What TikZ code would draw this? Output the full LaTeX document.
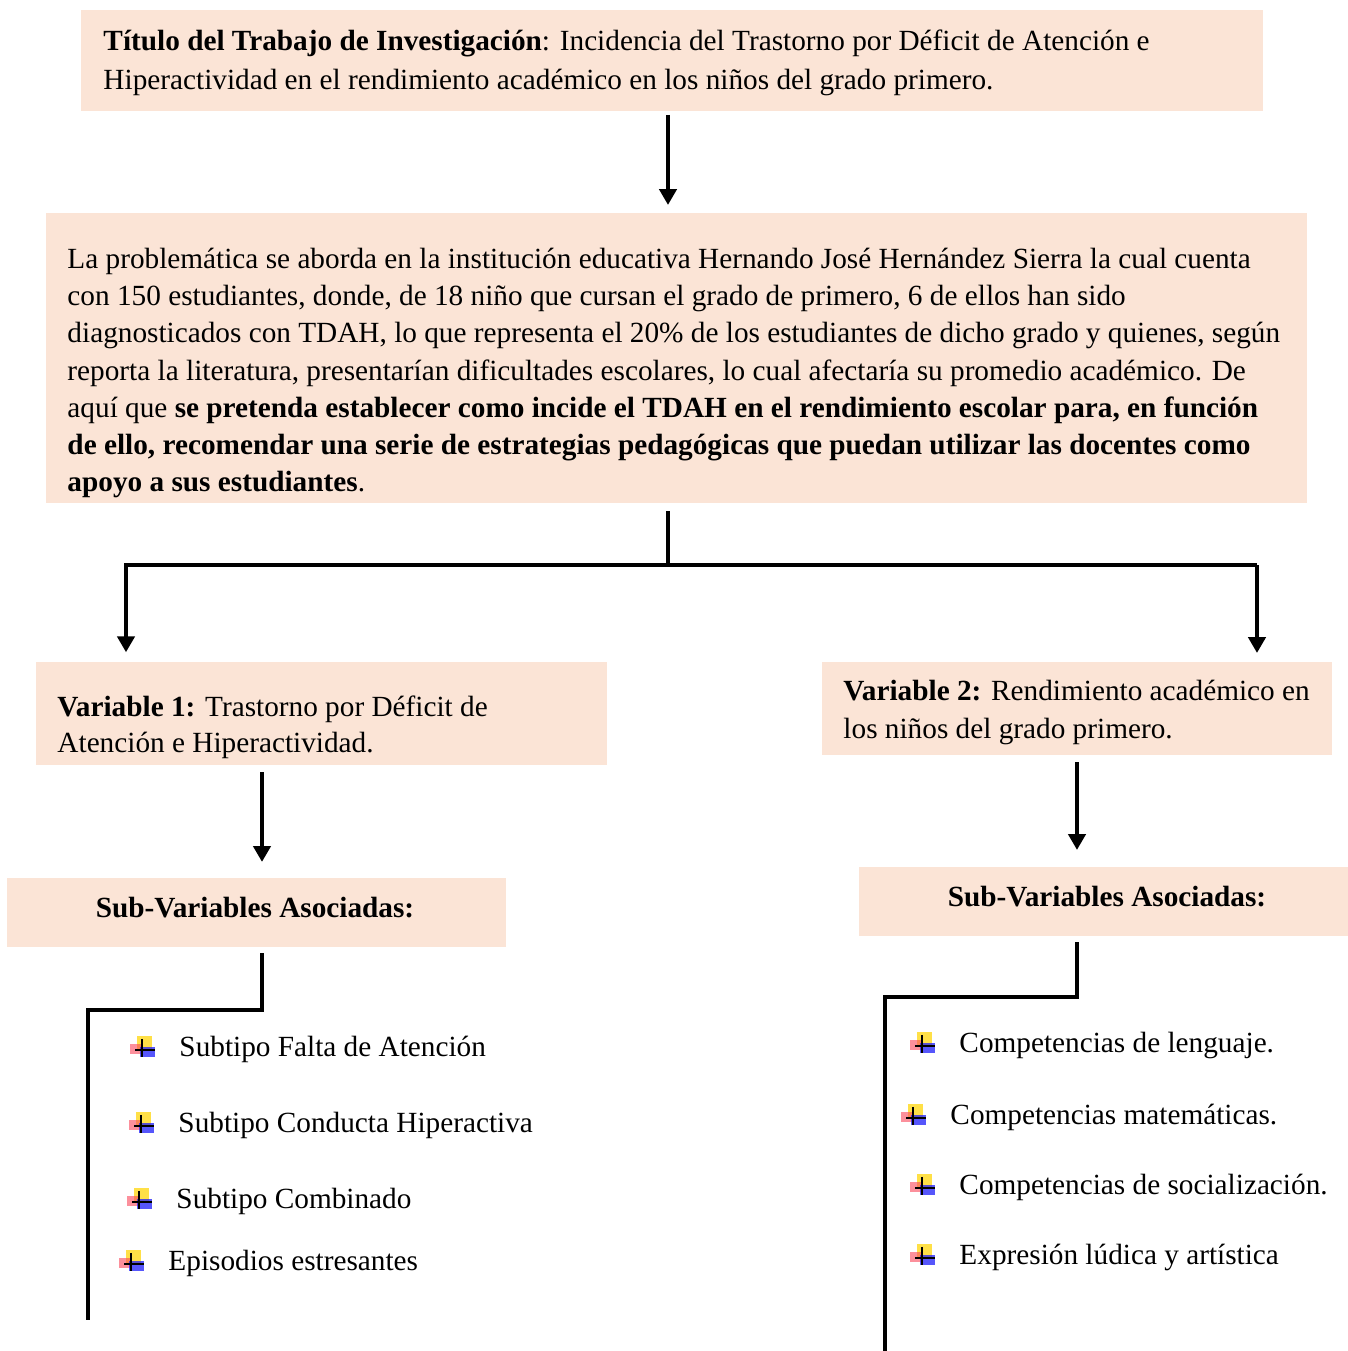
\documentclass[tikz,border=0pt]{standalone}
\usepackage{fontspec}
\setmainfont{Liberation Serif}
\usetikzlibrary{arrows.meta,fit,positioning}
\definecolor{peach}{RGB}{251,228,214}
\definecolor{bulyel}{RGB}{255,214,10}
\definecolor{bulred}{RGB}{250,70,90}
\definecolor{bulblu}{RGB}{30,30,250}
\newcommand{\pxu}{0.41pt}
\tikzset{
	plusmark/.pic={
		\fill[bulyel,opacity=.75] (-5,-14) rectangle (10,-1);
		\fill[bulred,opacity=.6] (-12,-6) rectangle (0,4);
		\fill[bulblu,opacity=.75] (-2,-3) rectangle (13,7);
		\draw[black,line width=0.5pt] (0,-11) -- (0,7) (-7,0) -- (13,0);
	}
}
\begin{document}
\begin{tikzpicture}[x=\pxu,y=-\pxu,
		pbox/.style={fill=peach,inner sep=0pt,outer sep=0pt},
		txt/.style={inner sep=0pt,align=left,anchor=north west,font=\fontsize{12}{15.2}\selectfont},
		item/.style={inner sep=0pt,anchor=west,text height=8.5pt,text depth=2.6pt,font=\fontsize{12}{14}\selectfont},
		link/.style={line width=1.6pt},
		arr/.style={link,-{Triangle[length=6.5pt,width=7pt]}}]
	\useasboundingbox (0,0) rectangle (1348,1351);
	% boxes and their texts
	\node[pbox,fit={(81,10)(1263,111)}] (titlebox) {};
	\node[txt,font=\fontsize{12}{16}\selectfont] (title) at (103,29.5) {\textbf{Título del Trabajo de Investigación}: Incidencia del Trastorno por Déficit de Atención e\\
		Hiperactividad en el rendimiento académico en los niños del grado primero.};
	\node[pbox,fit={(46,213)(1307,503)}] (probbox) {};
	\node[txt] (prob) at (67,248) {La problemática se aborda en la institución educativa Hernando José Hernández Sierra la cual cuenta\\
		con 150 estudiantes, donde, de 18 niño que cursan el grado de primero, 6 de ellos han sido\\
		diagnosticados con TDAH, lo que representa el 20\% de los estudiantes de dicho grado y quienes, según\\
		reporta la literatura, presentarían dificultades escolares, lo cual afectaría su promedio académico. De\\
		aquí que \textbf{se pretenda establecer como incide el TDAH en el rendimiento escolar para, en función}\\
		\textbf{de ello, recomendar una serie de estrategias pedagógicas que puedan utilizar las docentes como}\\
		\textbf{apoyo a sus estudiantes}.};
	\node[pbox,fit={(36,662)(607,765)}] (var1box) {};
	\node[txt,font=\fontsize{12}{14.8}\selectfont] (var1) at (57,695.5) {\textbf{Variable 1:} Trastorno por Déficit de\\ Atención e Hiperactividad.};
	\node[pbox,fit={(822,662)(1332,755)}] (var2box) {};
	\node[txt,font=\fontsize{12}{15.6}\selectfont] (var2) at (843,679.5) {\textbf{Variable 2:} Rendimiento académico en\\ los niños del grado primero.};
	\node[pbox,fit={(7,878)(506,947)}] (sub1box) {};
	\node[inner sep=0pt,font=\fontsize{12}{14}\bfseries] (sub1) at (255,908) {Sub-Variables Asociadas:};
	\node[pbox,fit={(859,867)(1348,936)}] (sub2box) {};
	\node[inner sep=0pt,font=\fontsize{12}{14}\bfseries] (sub2) at (1107,897) {Sub-Variables Asociadas:};
	% connectors
	\coordinate (mx) at (668,160);
	\coordinate (jL) at (126,565);
	\coordinate (jR) at (1257,565);
	\coordinate (v1x) at (262,800);
	\coordinate (l1) at (88,1010);
	\coordinate (l1end) at (88,1320);
	\coordinate (r1) at (885,997);
	\coordinate (r1end) at (885,1351);
	\draw[arr,shorten <=1.6pt,shorten >=3.3pt] (titlebox.south -| mx) -- (probbox.north -| mx);
	\draw[link,shorten <=3.3pt] (probbox.south -| mx) -- (jL -| mx);
	\draw[arr,shorten >=4pt] (jR) -- (jL) -- (jL |- var1box.north);
	\draw[arr,shorten >=3.7pt] (jR) -- (jR |- var2box.north);
	\draw[arr,shorten <=2.9pt,shorten >=6.6pt] (var1box.south -| v1x) -- (sub1box.north -| v1x);
	\draw[arr,shorten <=2.9pt,shorten >=7pt] (var2box.south) -- (var2box.south |- sub2box.north);
	\draw[link,shorten <=2.5pt] (sub1box.south -| v1x) |- (l1) -- (l1end);
	\draw[link,shorten <=2.5pt] (sub2box.south -| var2box.south) |- (r1) -- (r1end);
	% sub-variables
	\node[item] (a1) at (179,1049) {Subtipo Falta de Atención};
	\node[item] (a2) at (178,1125) {Subtipo Conducta Hiperactiva};
	\node[item] (a3) at (176,1201) {Subtipo Combinado};
	\node[item] (a4) at (168,1263) {Episodios estresantes};
	\node[item] (b1) at (959,1045) {Competencias de lenguaje.};
	\node[item] (b2) at (950,1117) {Competencias matemáticas.};
	\node[item] (b3) at (959,1187) {Competencias de socialización.};
	\node[item] (b4) at (959,1257) {Expresión lúdica y artística};
	\foreach \n in {a1,a2,a3,a4,b1,b2,b3,b4}
		\pic at ([xshift=-37*\pxu,yshift=-0.4pt]\n.west) {plusmark};
\end{tikzpicture}
\end{document}
